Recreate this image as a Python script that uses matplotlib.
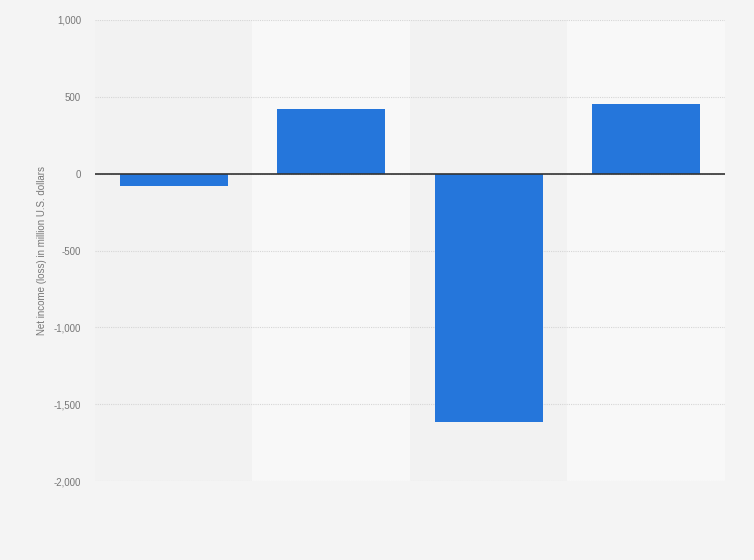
import numpy as np
import matplotlib.pyplot as plt
from matplotlib.ticker import FuncFormatter

plt.rcParams['font.family'] = ['Liberation Sans', 'DejaVu Sans']

# Net income (loss) in million U.S. dollars, four periods (x labels not shown in source)
categories = ['P1', 'P2', 'P3', 'P4']
net_income = [-78, 422, -1617, 455]
yticks = [-2000, -1500, -1000, -500, 0, 500, 1000]

fig = plt.figure(figsize=(7.54, 5.6), dpi=100, facecolor='#f4f4f4')
ax = fig.add_axes([0.126, 0.141, 0.8355, 0.8233], facecolor='#f2f2f2')

x = np.arange(len(categories))

# alternating column bands, lighter on every second column
for i in x:
    if i % 2 == 1:
        ax.axvspan(i - 0.5, i + 0.5, color='#f8f8f8', zorder=0, lw=0)

ax.bar(x, net_income, width=0.685, color='#2576db', zorder=3)
ax.axhline(0, color='#333333', lw=1.2, zorder=4)

ax.set_xlim(-0.5, len(categories) - 0.5)
ax.set_ylim(-2000, 1000)
ax.set_yticks(yticks)
ax.yaxis.set_major_formatter(FuncFormatter(lambda v, p: f'{int(v):,}'))
ax.set_xticks([])
ax.grid(axis='y', color='#d6d6d6', lw=0.8, ls=(0, (1, 1)), zorder=1)
ax.tick_params(axis='y', length=0, pad=10, labelsize=7, labelcolor='#777777')
for spine in ('top', 'right', 'bottom', 'left'):
    ax.spines[spine].set_visible(False)

ax.set_ylabel('Net income (loss) in million U.S. dollars', fontsize=7,
              color='#777777', labelpad=5)

fig.savefig('out.png', dpi=100, facecolor=fig.get_facecolor())
